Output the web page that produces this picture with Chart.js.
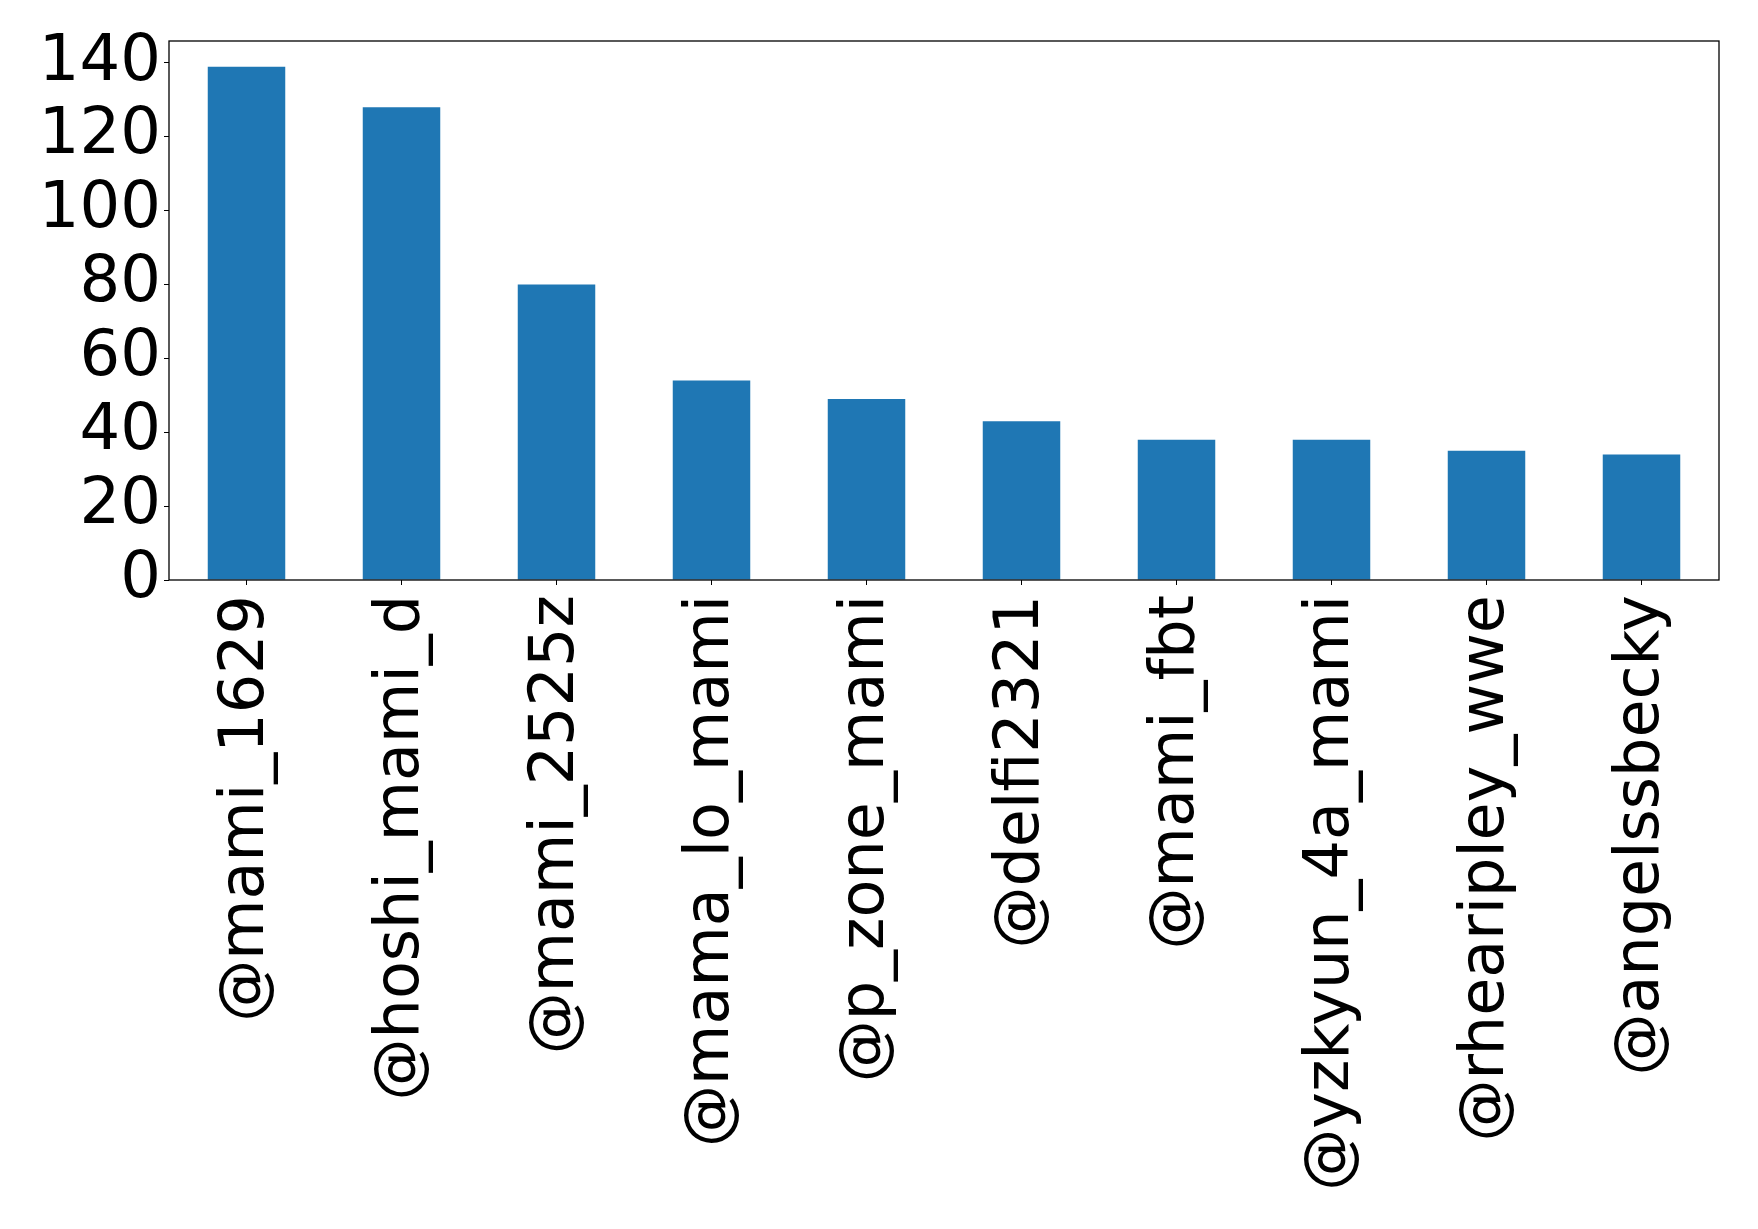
<!doctype html>
<html>
<head>
<meta charset="utf-8">
<script src="https://cdn.jsdelivr.net/npm/chart.js"></script>
<style>
html, body {
	margin: 0;
	padding: 0;
	background: #fff;
}
#wrap {
	width: 1758px;
	height: 1229px;
	position: relative;
}
</style>
</head>
<body>
<div id="wrap"><canvas id="myChart"></canvas></div>
<script>
	var accounts = ['@mami_1629', '@hoshi_mami_d', '@mami_2525z', '@mama_lo_mami', '@p_zone_mami',
		'@delfi2321', '@mami_fbt', '@yzkyun_4a_mami', '@rhearipley_wwe', '@angelssbecky'];
	var counts = [139, 128, 80, 54, 49, 43, 38, 38, 35, 34];
	var yTicks = [0, 20, 40, 60, 80, 100, 120, 140];

	var yFont = { family: "'DejaVu Sans', sans-serif", size: 64 };
	var xFont = { family: "'DejaVu Sans', sans-serif", size: 62 };

	// full box round the plot, like the matplotlib frame
	var frame = {
		id: 'frame',
		afterDraw: function (chart) {
			var a = chart.chartArea, c = chart.ctx;
			c.save();
			c.strokeStyle = '#000';
			c.lineWidth = 1.3;
			c.strokeRect(a.left, a.top, a.right - a.left, a.bottom - a.top);
			c.restore();
		}
	};

	new Chart(document.getElementById('myChart'), {
		type: 'bar',
		data: {
			labels: accounts,
			datasets: [{
				data: counts,
				backgroundColor: '#1f77b4',
				borderWidth: 0,
				barPercentage: 0.5,
				categoryPercentage: 1.0
			}]
		},
		options: {
			responsive: true,
			maintainAspectRatio: false,
			animation: false,
			layout: { padding: { top: 41, right: 39, left: 0, bottom: 0 } },
			plugins: {
				legend: { display: false },
				tooltip: { enabled: false }
			},
			scales: {
				x: {
					grid: { drawOnChartArea: false, offset: false, color: '#000', tickLength: 5, lineWidth: 1 },
					border: { display: false },
					ticks: {
						color: '#000',
						font: xFont,
						minRotation: 90,
						maxRotation: 90,
						autoSkip: false,
						padding: 10
					},
					afterFit: function (scale) {
						scale.height = 649;
						scale.paddingLeft = 0;
						scale.paddingRight = 0;
					}
				},
				y: {
					min: 0,
					max: 139 * 1.05,
					grid: { drawOnChartArea: false, color: '#000', tickLength: 5, lineWidth: 1 },
					border: { display: false },
					ticks: {
						color: '#000',
						font: yFont,
						autoSkip: false,
						padding: 3
					},
					afterBuildTicks: function (scale) {
						scale.ticks = yTicks.map(function (v) { return { value: v }; });
					},
					afterFit: function (scale) {
						scale.width = 169;
						scale.paddingTop = 0;
						scale.paddingBottom = 0;
					}
				}
			}
		},
		plugins: [frame]
	});
</script>
</body>
</html>
